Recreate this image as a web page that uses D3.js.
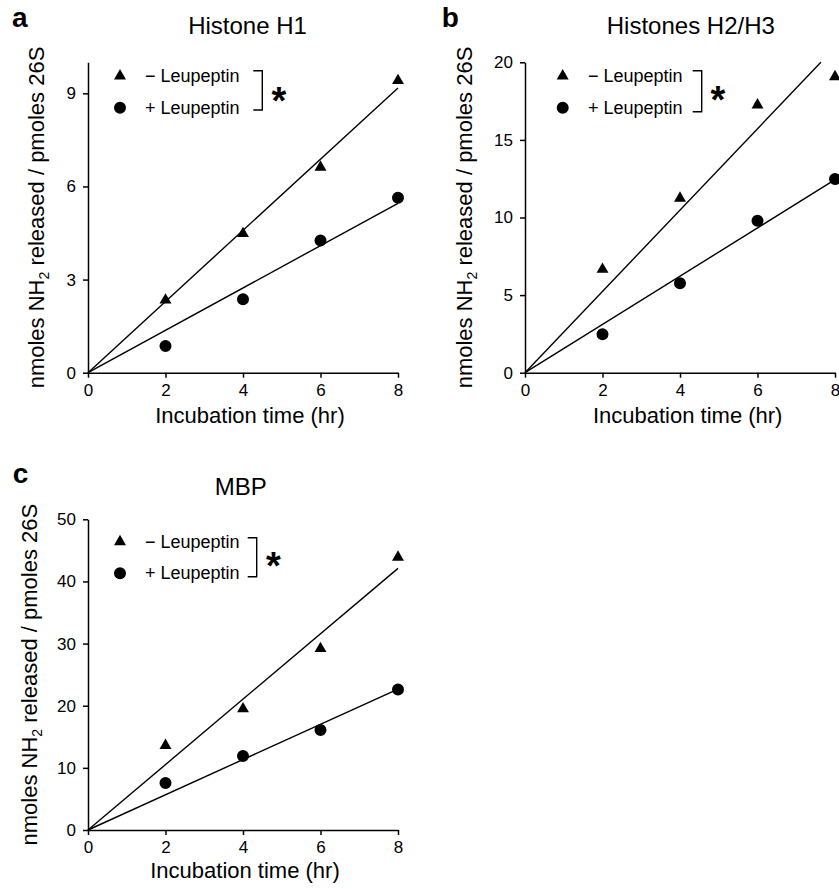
<!DOCTYPE html>
<html><head><meta charset="utf-8">
<script src="https://cdn.jsdelivr.net/npm/d3@7"></script>
<style>
body{margin:0;background:#fff}
svg{display:block}
text{font-family:"Liberation Sans",Arial,Helvetica,sans-serif;fill:#000}
</style>
</head><body><svg id="chart" width="839" height="889"></svg>
<script>
// ---- data ----
const timePoints = [2, 4, 6, 8];
const xTicks = [0, 2, 4, 6, 8];
const h1Minus = [2.34, 4.48, 6.62, 9.41];
const h1Plus = [0.86, 2.37, 4.26, 5.64];
const h23Minus = [6.66, 11.24, 17.25, 19.07];
const h23Plus = [2.47, 5.76, 9.79, 12.48];
const mbpMinus = [13.6, 19.5, 29.2, 43.9];
const mbpPlus = [7.58, 11.9, 16.1, 22.6];
const h1Ticks = [0, 3, 6, 9];
const h23Ticks = [0, 5, 10, 15, 20];
const mbpTicks = [0, 10, 20, 30, 40, 50];
const yMaxes = [10, 20, 50];
const panelTitles = ["Histone H1", "Histones H2/H3", "MBP"];
const panelLetters = ["a", "b", "c"];
const legendLabels = ["\u2212 Leupeptin", "+ Leupeptin"];
const xLabel = "Incubation time (hr)";

const seriesByPanel = [[h1Minus, h1Plus], [h23Minus, h23Plus], [mbpMinus, mbpPlus]];
const ticksByPanel = [h1Ticks, h23Ticks, mbpTicks];

// ---- layout ----
const layouts = [
  {x0:88, x1:398, yTop:62.3, yBot:372.7, titleX:247.5, titleY:34, letterX:12, letterY:27, ylabX:44, xlabX:250, xlabY:423,
   legX:120, legY:[76,107.7], textX:145, brX:262.3, brTop:70.7, brBot:110, starX:278.8, starY:92.5},
  {x0:525, x1:835, yTop:62.3, yBot:372.7, titleX:690.8, titleY:33.5, letterX:441.7, letterY:27, ylabX:472.3, xlabX:687.7, xlabY:423,
   legX:562.7, legY:[76,107.7], textX:588, brX:701.7, brTop:70.7, brBot:111.7, starX:717.8, starY:91.7},
  {x0:88, x1:398, yTop:519.3, yBot:830, titleX:240.8, titleY:495, letterX:12.7, letterY:483, ylabX:37.3, xlabX:245, xlabY:878,
   legX:120, legY:[541.7,573.3], textX:145, brX:256.7, brTop:537.7, brBot:576.7, starX:273.3, starY:558.3}
];

const svg = d3.select("#chart");
const triSym = d3.symbol().type(d3.symbolTriangle).size(62);
const cirSym = d3.symbol().type(d3.symbolCircle).size(113);
const symbols = [triSym, cirSym];

layouts.forEach((L, i) => {
  const g = svg.append("g");
  const x = d3.scaleLinear().domain([0, 8]).range([L.x0, L.x1]);
  const y = d3.scaleLinear().domain([0, yMaxes[i]]).range([L.yBot, L.yTop]);

  // axes
  const xa = g.append("g").attr("transform", `translate(0,${L.yBot})`)
    .call(d3.axisBottom(x).tickValues(xTicks).tickSize(5).tickSizeOuter(0).tickPadding(6));
  const ya = g.append("g").attr("transform", `translate(${L.x0},0)`)
    .call(d3.axisLeft(y).tickValues(ticksByPanel[i]).tickSize(5).tickSizeOuter(0).tickPadding(7));
  [xa, ya].forEach(a => {
    a.selectAll("path,line").attr("stroke", "#000").attr("stroke-width", 1.5);
    a.selectAll("text").attr("font-size", 17).attr("font-family", '"Liberation Sans",Arial,sans-serif').attr("fill", "#000");
  });

  // fit lines through origin
  seriesByPanel[i].forEach((vals) => {
    const sxy = d3.sum(timePoints, (t, k) => t * vals[k]);
    const sxx = d3.sum(timePoints, t => t * t);
    const slope = sxy / sxx;
    const xEnd = Math.min(8, yMaxes[i] / slope);
    g.append("line")
      .attr("x1", x(0)).attr("y1", y(0))
      .attr("x2", x(xEnd)).attr("y2", y(slope * xEnd))
      .attr("stroke", "#000").attr("stroke-width", 1.4);
  });

  // points
  seriesByPanel[i].forEach((vals, s) => {
    g.selectAll(null).data(vals).enter().append("path")
      .attr("d", symbols[s])
      .attr("transform", (v, k) => `translate(${x(timePoints[k])},${y(v)})`)
      .attr("fill", "#000");
  });

  // legend
  legendLabels.forEach((lab, s) => {
    g.append("path").attr("d", symbols[s])
      .attr("transform", `translate(${L.legX},${L.legY[s]})`).attr("fill", "#000");
    g.append("text").attr("x", L.textX).attr("y", L.legY[s] + 6)
      .attr("font-size", 18).text(lab);
  });
  // bracket
  g.append("path")
    .attr("d", `M${L.brX - 9},${L.brTop} H${L.brX} V${L.brBot} H${L.brX - 9}`)
    .attr("fill", "none").attr("stroke", "#000").attr("stroke-width", 1.4);
  g.append("text").attr("x", L.starX).attr("y", L.starY + 21)
    .attr("text-anchor", "middle").attr("font-size", 38).attr("font-weight", "bold").text("*");

  // titles & labels
  g.append("text").attr("x", L.titleX).attr("y", L.titleY)
    .attr("text-anchor", "middle").attr("font-size", 24).text(panelTitles[i]);
  g.append("text").attr("x", L.letterX).attr("y", L.letterY)
    .attr("font-size", 28).attr("font-weight", "bold").text(panelLetters[i]);
  g.append("text").attr("x", L.xlabX).attr("y", L.xlabY)
    .attr("text-anchor", "middle").attr("font-size", 22).text(xLabel);
  const yl = g.append("text")
    .attr("transform", `translate(${L.ylabX},${(L.yTop + L.yBot) / 2}) rotate(-90)`)
    .attr("text-anchor", "middle").attr("font-size", 22);
  yl.append("tspan").text("nmoles NH");
  yl.append("tspan").attr("font-size", 14).attr("dy", 5).text("2");
  yl.append("tspan").attr("dy", -5).text(" released / pmoles 26S");
});
</script></body></html>
